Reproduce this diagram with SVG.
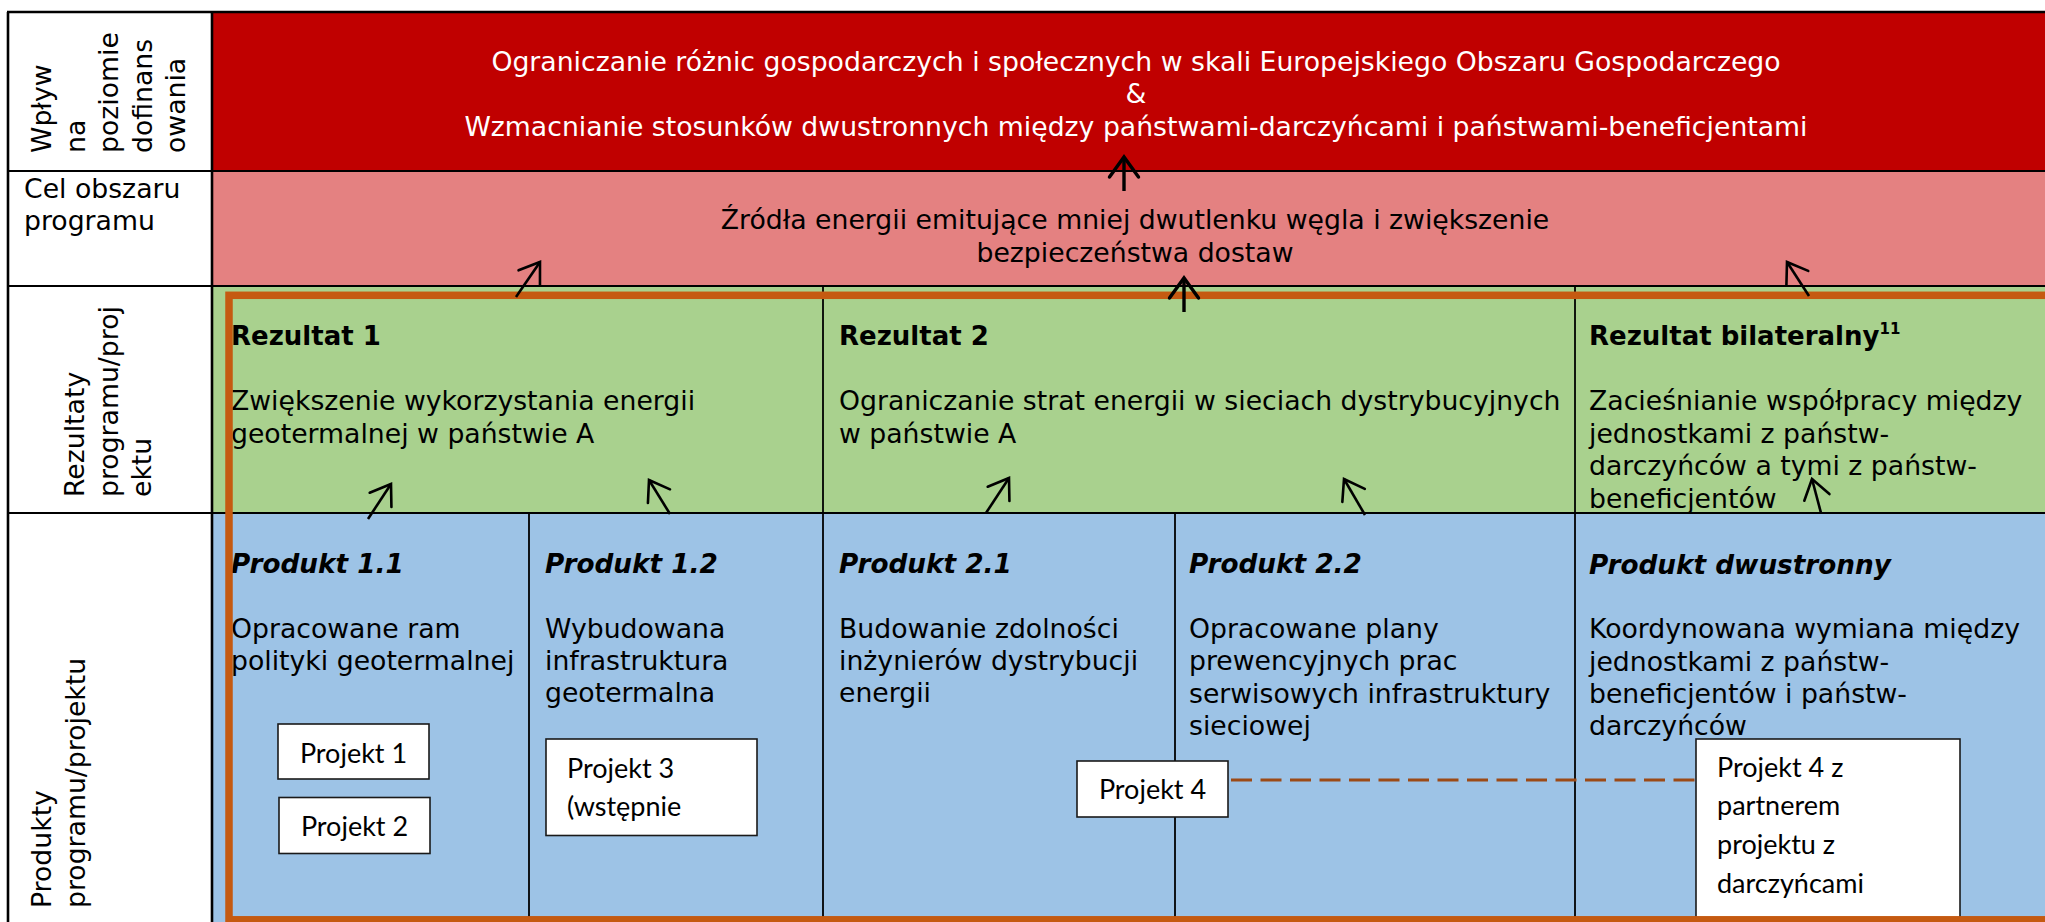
<svg xmlns="http://www.w3.org/2000/svg" width="2045" height="922" viewBox="0 0 2045 922">
<defs>
<style>
.t{font-family:"DejaVu Sans",Verdana,sans-serif;font-size:26.7px;fill:#000}
.w{fill:#fff}
.b{font-weight:bold;font-size:26px}
.bi{font-weight:bold;font-style:italic;font-size:26.3px}
.c{text-anchor:middle}
.p{font-family:Lato,"Open Sans",sans-serif;font-size:27px;fill:#000}
.gl{stroke:#000;stroke-width:2;fill:none}
.gd{stroke:#000;stroke-width:1.8;fill:none}
.box{fill:#fff;stroke:#1a1a1a;stroke-width:1.6}
.arr{fill:none;stroke:#000;stroke-width:2.6;marker-end:url(#ah)}
.arr2{fill:none;stroke:#000;stroke-width:3.4;marker-end:url(#ah2)}
</style>
<marker id="ah" markerUnits="userSpaceOnUse" orient="auto" refX="0" refY="0" markerWidth="40" markerHeight="40" viewBox="-30 -20 40 40" overflow="visible">
<path d="M-19,-13 L0,0 L-19,13" fill="none" stroke="#000" stroke-width="2.6" stroke-linecap="round"/>
</marker>
<marker id="ah2" markerUnits="userSpaceOnUse" orient="auto" refX="0" refY="0" markerWidth="40" markerHeight="40" viewBox="-30 -20 40 40" overflow="visible">
<path d="M-20,-14.5 L0,0 L-20,14.5" fill="none" stroke="#000" stroke-width="3.4" stroke-linecap="round"/>
</marker>
</defs>
<rect x="0" y="0" width="2045" height="922" fill="#fff"/>

<g id="row-labels">
<text class="t" transform="translate(51,153) rotate(-90)"><tspan x="0" y="0">Wpływ</tspan><tspan x="0" y="33.5">na</tspan><tspan x="0" y="67">poziomie</tspan><tspan x="0" y="100.5">dofinans</tspan><tspan x="0" y="134">owania</tspan></text>
<text class="t"><tspan x="24" y="198">Cel obszaru</tspan><tspan x="24" y="230">programu</tspan></text>
<text class="t" transform="translate(84,497) rotate(-90)"><tspan x="0" y="0">Rezultaty</tspan><tspan x="0" y="33.5">programu/proj</tspan><tspan x="0" y="67">ektu</tspan></text>
<text class="t" transform="translate(51,908) rotate(-90)"><tspan x="0" y="0">Produkty</tspan><tspan x="0" y="34">programu/projektu</tspan></text>
</g>

<g id="impact">
<rect x="212" y="12" width="1860" height="159" fill="#C00000"/>
<text class="t w c"><tspan x="1136" y="71">Ograniczanie różnic gospodarczych i społecznych w skali Europejskiego Obszaru Gospodarczego</tspan><tspan x="1136" y="103">&amp;</tspan><tspan x="1136" y="136">Wzmacnianie stosunków dwustronnych między państwami-darczyńcami i państwami-beneficjentami</tspan></text>
</g>

<g id="objective">
<rect x="212" y="171" width="1860" height="115" fill="#E48181"/>
<text class="t c"><tspan x="1135" y="229">Źródła energii emitujące mniej dwutlenku węgla i zwiększenie</tspan><tspan x="1135" y="262">bezpieczeństwa dostaw</tspan></text>
</g>

<g id="outcomes-bg"><rect x="212" y="286" width="1860" height="227" fill="#A9D18E"/></g>
<g id="outputs-bg"><rect x="212" y="513" width="1860" height="420" fill="#9DC3E6"/></g>

<g id="grid">
<line class="gd" x1="823" y1="286" x2="823" y2="922"/>
<line class="gd" x1="1575" y1="286" x2="1575" y2="922"/>
<line class="gd" x1="529" y1="513" x2="529" y2="922"/>
<line class="gd" x1="1175" y1="513" x2="1175" y2="922"/>
<line class="gl" x1="8" y1="171" x2="2045" y2="171"/>
<line class="gl" x1="8" y1="286" x2="2045" y2="286"/>
<line class="gl" x1="8" y1="513" x2="2045" y2="513"/>
<line stroke="#000" stroke-width="2.6" x1="212" y1="12" x2="212" y2="922"/>
<line stroke="#000" stroke-width="2.6" x1="8" y1="12" x2="8" y2="922"/>
<line stroke="#000" stroke-width="2.6" x1="7" y1="12" x2="2045" y2="12"/>
</g>

<g id="outcome-1">
<text class="t b" x="231" y="345">Rezultat 1</text>
<text class="t"><tspan x="231" y="410">Zwiększenie wykorzystania energii</tspan><tspan x="231" y="443">geotermalnej w państwie A</tspan></text>
</g>
<g id="outcome-2">
<text class="t b" x="839" y="345">Rezultat 2</text>
<text class="t"><tspan x="839" y="410">Ograniczanie strat energii w sieciach dystrybucyjnych</tspan><tspan x="839" y="443">w państwie A</tspan></text>
</g>
<g id="outcome-bilateral">
<text class="t b" x="1589" y="345">Rezultat bilateralny<tspan font-size="15" dy="-11">11</tspan></text>
<text class="t"><tspan x="1589" y="410">Zacieśnianie współpracy między</tspan><tspan x="1589" y="442.5">jednostkami z państw-</tspan><tspan x="1589" y="475">darczyńców a tymi z państw-</tspan><tspan x="1589" y="507.5">beneficjentów</tspan></text>
</g>

<g id="output-1-1">
<text class="t bi" x="231" y="573">Produkt 1.1</text>
<text class="t"><tspan x="231" y="638">Opracowane ram</tspan><tspan x="231" y="670">polityki geotermalnej</tspan></text>
</g>
<g id="output-1-2">
<text class="t bi" x="545" y="573">Produkt 1.2</text>
<text class="t"><tspan x="545" y="638">Wybudowana</tspan><tspan x="545" y="670">infrastruktura</tspan><tspan x="545" y="702">geotermalna</tspan></text>
</g>
<g id="output-2-1">
<text class="t bi" x="839" y="573">Produkt 2.1</text>
<text class="t"><tspan x="839" y="638">Budowanie zdolności</tspan><tspan x="839" y="670">inżynierów dystrybucji</tspan><tspan x="839" y="702">energii</tspan></text>
</g>
<g id="output-2-2">
<text class="t bi" x="1189" y="573">Produkt 2.2</text>
<text class="t"><tspan x="1189" y="638">Opracowane plany</tspan><tspan x="1189" y="670">prewencyjnych prac</tspan><tspan x="1189" y="703">serwisowych infrastruktury</tspan><tspan x="1189" y="735">sieciowej</tspan></text>
</g>
<g id="output-bilateral">
<text class="t bi" x="1589" y="574">Produkt dwustronny</text>
<text class="t"><tspan x="1589" y="638">Koordynowana wymiana między</tspan><tspan x="1589" y="670.5">jednostkami z państw-</tspan><tspan x="1589" y="703">beneficjentów i państw-</tspan><tspan x="1589" y="735">darczyńców</tspan></text>
</g>

<g id="connectors">
<line x1="1231" y1="780" x2="1696" y2="780" stroke="#9C4A16" stroke-width="3" stroke-dasharray="21 8.5"/>
</g>

<g id="projekt-1"><rect class="box" x="278" y="724" width="151" height="55"/><text class="p c" x="353.5" y="763">Projekt 1</text></g>
<g id="projekt-2"><rect class="box" x="279" y="797.5" width="151" height="56"/><text class="p c" x="354.5" y="836">Projekt 2</text></g>
<g id="projekt-3"><rect class="box" x="546" y="739" width="211" height="96.5"/><text class="p"><tspan x="567" y="777.5">Projekt 3</tspan><tspan x="567" y="816">(wstępnie</tspan></text></g>
<g id="projekt-4"><rect class="box" x="1077" y="761" width="151" height="56"/><text class="p c" x="1152.5" y="799">Projekt 4</text></g>
<g id="projekt-4z"><rect class="box" x="1696" y="739" width="264" height="200"/><text class="p"><tspan x="1717" y="777">Projekt 4 z</tspan><tspan x="1717" y="815">partnerem</tspan><tspan x="1717" y="853.5">projektu z</tspan><tspan x="1717" y="892.5">darczyńcami</tspan></text></g>

<g id="frame"><rect x="229" y="295.3" width="1900" height="624.5" fill="none" stroke="#C55A11" stroke-width="7.5"/></g>

<g id="arrows">
<line class="arr2" x1="1124" y1="191" x2="1124" y2="157"/>
<line class="arr2" x1="1184" y1="312" x2="1184" y2="278"/>
<line class="arr" x1="516" y1="297" x2="540" y2="262"/>
<line class="arr" x1="1809" y1="296" x2="1787" y2="262"/>
<line class="arr" x1="368" y1="519" x2="391" y2="484"/>
<line class="arr" x1="670" y1="514" x2="649" y2="480"/>
<line class="arr" x1="986" y1="513" x2="1009" y2="478"/>
<line class="arr" x1="1365" y1="515" x2="1344" y2="479"/>
<line class="arr" x1="1821" y1="513" x2="1812" y2="479"/>
</g>
</svg>
